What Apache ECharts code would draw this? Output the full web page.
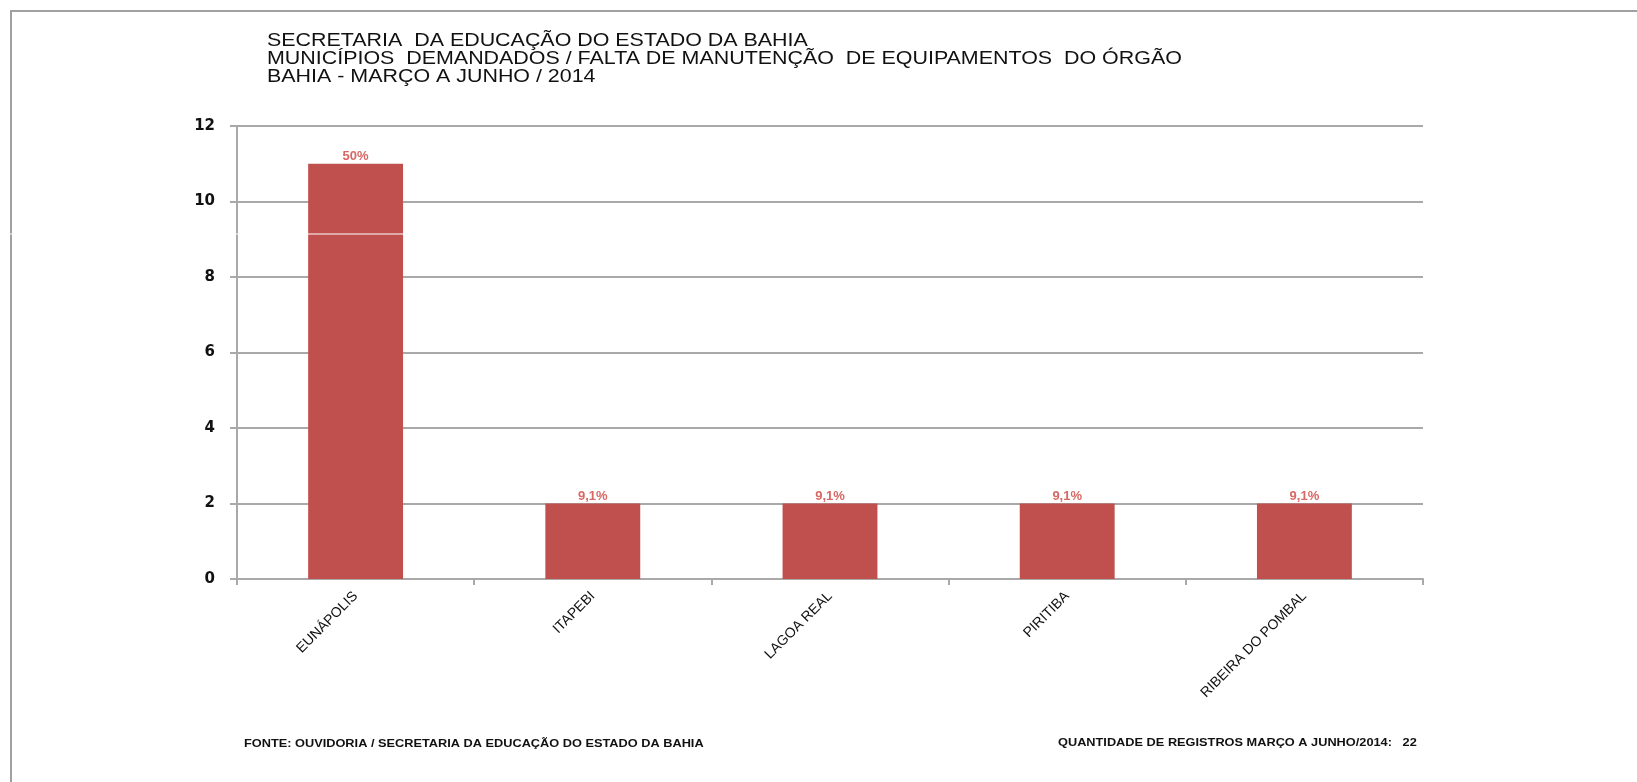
<!DOCTYPE html>
<html lang="pt-BR">
<head>
<meta charset="UTF-8" />
<title>Municípios demandados / falta de manutenção de equipamentos</title>
<style>
  html, body { margin: 0; padding: 0; background: #ffffff; }
  #chart { width: 1637px; height: 782px; }
</style>
</head>
<body>
<div id="chart"></div>

<script src="https://cdn.jsdelivr.net/npm/echarts@6/dist/echarts.min.js"></script>
<script>
    // dados do gráfico
    const municipios = ['EUNÁPOLIS', 'ITAPEBI', 'LAGOA REAL', 'PIRITIBA', 'RIBEIRA DO POMBAL'];
    const registros = [11, 2, 2, 2, 2];
    const totalRegistros = 22;
    const eixoY = { min: 0, max: 12, intervalo: 2 };

    const titulo = [
        'SECRETARIA  DA EDUCAÇÃO DO ESTADO DA BAHIA',
        'MUNICÍPIOS  DEMANDADOS / FALTA DE MANUTENÇÃO  DE EQUIPAMENTOS  DO ÓRGÃO',
        'BAHIA - MARÇO A JUNHO / 2014'
    ];
    const fonte = 'FONTE: OUVIDORIA / SECRETARIA DA EDUCAÇÃO DO ESTADO DA BAHIA';
    const quantidade = 'QUANTIDADE DE REGISTROS MARÇO A JUNHO/2014:   ' + totalRegistros;

    // percentual no formato brasileiro: 9,1%  /  50%
    function pct(v) {
        let s = (v / totalRegistros * 100).toFixed(1);
        if (s.endsWith('.0')) s = s.slice(0, -2);
        return s.replace('.', ',') + '%';
    }

    const cinza = '#a9a9a9';
    const chart = echarts.init(document.getElementById('chart'));

    chart.setOption({
        backgroundColor: '#ffffff',
        animation: false,
        grid: { left: 237, top: 126, right: 214, bottom: 203, containLabel: false },
        xAxis: {
            type: 'category',
            data: municipios,
            boundaryGap: true,
            axisLine: { show: true, lineStyle: { color: cinza, width: 2 } },
            axisTick: { show: true, length: 6, alignWithLabel: false, lineStyle: { color: cinza, width: 2 } },
            axisLabel: {
                rotate: 45,
                margin: 15,
                color: '#111',
                fontFamily: 'Liberation Sans, Arial, sans-serif',
                fontSize: 14
            }
        },
        yAxis: {
            type: 'value',
            min: eixoY.min,
            max: eixoY.max,
            interval: eixoY.intervalo,
            axisLine: { show: true, lineStyle: { color: cinza, width: 2 } },
            axisTick: { show: true, length: 7, lineStyle: { color: cinza, width: 2 } },
            splitLine: { show: true, lineStyle: { color: cinza, width: 2 } },
            axisLabel: {
                margin: 22,
                color: '#111',
                fontFamily: 'DejaVu Sans, Verdana, sans-serif',
                fontWeight: 'bold',
                fontSize: 15
            }
        },
        series: [{
            type: 'bar',
            data: registros,
            barWidth: '40%',
            itemStyle: { color: '#c0504d' },
            label: {
                show: true,
                position: 'top',
                distance: 1,
                color: '#d86864',
                fontFamily: 'Liberation Sans, Arial, sans-serif',
                fontWeight: 'bold',
                fontSize: 13,
                formatter: p => pct(p.value)
            }
        }],
        graphic: [
            // moldura
            {
                type: 'polyline',
                shape: { points: [[11, 782], [11, 11], [1637, 11]] },
                style: { stroke: '#a0a0a0', lineWidth: 2, fill: null },
                silent: true
            },
            // linha branca que corta a imagem original
            {
                type: 'rect',
                shape: { x: 0, y: 233.5, width: 1637, height: 1 },
                style: { fill: '#ffffff' },
                z: 100,
                silent: true
            },
            {
                type: 'text',
                x: 267, y: 32,
                scaleX: 1.19,
                style: {
                    text: titulo.join('\n'),
                    fill: '#111',
                    font: '18px "Liberation Sans", Arial, sans-serif',
                    lineHeight: 18,
                    textAlign: 'left',
                    textVerticalAlign: 'top'
                }
            },
            {
                type: 'text',
                x: 244, y: 744,
                scaleX: 1.16,
                style: {
                    text: fonte,
                    fill: '#111',
                    font: 'bold 11px "Liberation Sans", Arial, sans-serif',
                    textAlign: 'left',
                    textVerticalAlign: 'middle'
                }
            },
            {
                type: 'text',
                x: 1058, y: 743,
                scaleX: 1.16,
                style: {
                    text: quantidade,
                    fill: '#111',
                    font: 'bold 11px "Liberation Sans", Arial, sans-serif',
                    textAlign: 'left',
                    textVerticalAlign: 'middle'
                }
            }
        ]
    });
</script>
</body>
</html>
